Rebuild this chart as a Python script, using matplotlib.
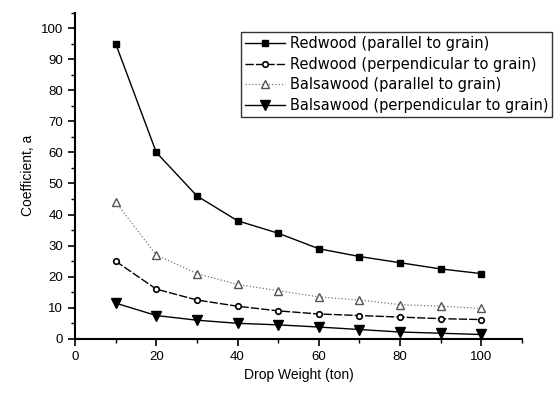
import matplotlib
matplotlib.use("Agg")
import matplotlib.pyplot as plt
from matplotlib.ticker import MultipleLocator

plt.rcParams['font.family'] = ['Liberation Sans', 'DejaVu Sans']

drop_weight = [10, 20, 30, 40, 50, 60, 70, 80, 90, 100]
redwood_par = [95, 60, 46, 38, 34, 29, 26.5, 24.5, 22.5, 21]
redwood_perp = [25, 16, 12.5, 10.5, 9, 8, 7.5, 7, 6.5, 6.2]
balsa_par = [44, 27, 21, 17.5, 15.5, 13.5, 12.5, 11, 10.5, 9.8]
balsa_perp = [11.5, 7.5, 6, 5, 4.5, 3.8, 3, 2.2, 1.8, 1.4]
labels = ["Redwood (parallel to grain)",
          "Redwood (perpendicular to grain)",
          "Balsawood (parallel to grain)",
          "Balsawood (perpendicular to grain)"]

fig = plt.figure(figsize=(5.6, 3.94), dpi=100)
ax = fig.add_axes([0.134, 0.14, 0.798, 0.828])

ax.plot(drop_weight, redwood_par, color='black', lw=1.0, marker='s', ms=5,
        mfc='black', mec='black', label=labels[0])
ax.plot(drop_weight, redwood_perp, color='black', lw=1.0, ls=(0, (6, 1.5)), marker='o', ms=4,
        mfc='white', mec='black', mew=1.2, label=labels[1])
ax.plot(drop_weight, balsa_par, color='#777777', lw=0.9, ls=':', marker='^', ms=6,
        mfc='white', mec='#555555', label=labels[2])
ax.plot(drop_weight, balsa_perp, color='black', lw=1.0, marker='v', ms=7,
        mfc='black', mec='black', label=labels[3])

ax.set_xlim(0, 110)
ax.set_ylim(0, 105)
ax.xaxis.set_minor_locator(MultipleLocator(10))
ax.yaxis.set_minor_locator(MultipleLocator(5))
ax.set_xticks([0, 20, 40, 60, 80, 100])
ax.set_yticks(range(0, 101, 10))

for s in ['top', 'right']:
    ax.spines[s].set_visible(False)
for s in ['left', 'bottom']:
    ax.spines[s].set_linewidth(1.5)
ax.tick_params(which='major', direction='out', length=5, width=1.2, labelsize=9.5)
ax.tick_params(which='minor', direction='out', length=3, width=1.0)

ax.set_xlabel("Drop Weight (ton)", fontsize=10)
ax.set_ylabel("Coefficient, a", fontsize=10)

leg = ax.legend(loc='upper right', bbox_to_anchor=(1.067, 0.94),
                prop={'family': 'DejaVu Sans', 'size': 10.5},
                frameon=True, fancybox=False, edgecolor='black', handlelength=2.8,
                borderpad=0.25, labelspacing=0.4, handletextpad=0.3, borderaxespad=0)
leg.get_frame().set_linewidth(1.0)

fig.savefig("out.png", dpi=100)
